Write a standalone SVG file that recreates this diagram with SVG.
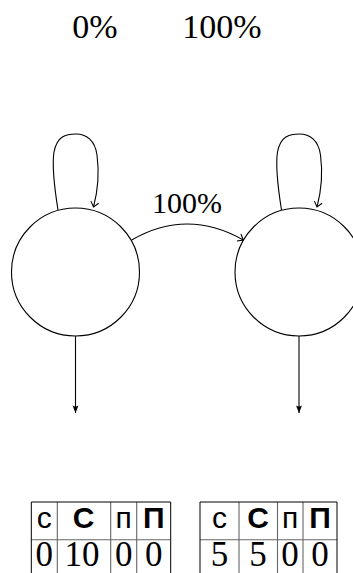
<svg xmlns="http://www.w3.org/2000/svg" width="353" height="573" viewBox="0 0 353 573">
  <style>
    .edge { fill: none; stroke: #000; stroke-width: 1.1; }
    .node { fill: #fff; stroke: #000; stroke-width: 1.1; }
    .top { font-family: "Liberation Serif", serif; font-size: 34px; fill: #000; text-anchor: middle; }
    .lbl { font-family: "Liberation Serif", serif; font-size: 30px; fill: #000; text-anchor: middle; }
    .hdr { font-family: "Liberation Sans", "DejaVu Sans", sans-serif; font-size: 30px; fill: #000; text-anchor: middle; }
    .b { font-weight: bold; }
    .val { font-family: "Liberation Serif", serif; font-size: 35px; fill: #000; text-anchor: middle; }
    .outer { stroke: #000; stroke-width: 1; fill: none; }
    .inner { stroke: #666; stroke-width: 1.1; fill: none; }
  </style>
  <defs>
    <marker id="to" viewBox="-7 -5 8 10" markerWidth="8" markerHeight="10" refX="0" refY="0" orient="auto" markerUnits="userSpaceOnUse">
      <path d="M-5,-4 Q-1.5,-1.2 0,0 Q-1.5,1.2 -5,4" fill="none" stroke="#000" stroke-width="1.1"/>
    </marker>
    <marker id="latex" viewBox="-8 -4 9 8" markerWidth="9" markerHeight="8" refX="0" refY="0" orient="auto" markerUnits="userSpaceOnUse">
      <path d="M0,0 L-7.5,-3 Q-5.5,0 -7.5,3 Z" fill="#000"/>
    </marker>
  </defs>

  <g id="header">
    <text class="top" x="95" y="38">0%</text>
    <text class="top" x="222" y="38">100%</text>
  </g>

  <g id="node-1">
    <circle class="node" cx="75.5" cy="272" r="64"/>
  </g>
  <g id="node-2">
    <circle class="node" cx="299" cy="272" r="64"/>
  </g>

  <g id="connectors">
    <path class="edge" d="M58,210 C54,185 52,165 54,152 C57,136 66,134 76,134 C86,134 95,140 97,155 C99,170 98,190 93.5,207" marker-end="url(#to)"/>
    <path class="edge" d="M281.5,210 C277.5,185 275.5,165 277.5,152 C280.5,136 289.5,134 299.5,134 C309.5,134 318.5,140 320.5,155 C322.5,170 321.5,190 317,207" marker-end="url(#to)"/>
    <path class="edge" d="M131.7,240 Q187,208 243.3,240" marker-end="url(#to)"/>
    <text class="lbl" x="187" y="213">100%</text>
    <path class="edge" d="M75.5,336 L75.5,413" marker-end="url(#latex)"/>
    <path class="edge" d="M299,336 L299,413" marker-end="url(#latex)"/>
  </g>

  <g id="table-1">
    <line class="inner" x1="57.3" y1="502" x2="57.3" y2="580"/>
    <line class="inner" x1="110.7" y1="502" x2="110.7" y2="580"/>
    <line class="inner" x1="136.7" y1="502" x2="136.7" y2="580"/>
    <line class="inner" x1="31.3" y1="539.7" x2="170.7" y2="539.7"/>
    <path class="outer" d="M31.3,580 L31.3,502 L170.7,502 L170.7,580"/>
    <text class="hdr" x="44.3" y="527.5">c</text>
    <text class="hdr b" x="83.5" y="527.5">C</text>
    <text class="hdr" x="123.7" y="527.5">п</text>
    <text class="hdr b" x="153.7" y="527.5">П</text>
    <text class="val" x="44.3" y="565.5">0</text>
    <text class="val" x="82" y="565.5">10</text>
    <text class="val" x="123.7" y="565.5">0</text>
    <text class="val" x="153.7" y="565.5">0</text>
  </g>

  <g id="table-2">
    <line class="inner" x1="239" y1="502" x2="239" y2="580"/>
    <line class="inner" x1="277.5" y1="502" x2="277.5" y2="580"/>
    <line class="inner" x1="303" y1="502" x2="303" y2="580"/>
    <line class="inner" x1="200" y1="539.7" x2="337" y2="539.7"/>
    <path class="outer" d="M200,580 L200,502 L337,502 L337,580"/>
    <text class="hdr" x="219.5" y="527.5">c</text>
    <text class="hdr b" x="258" y="527.5">C</text>
    <text class="hdr" x="290" y="527.5">п</text>
    <text class="hdr b" x="320" y="527.5">П</text>
    <text class="val" x="219.5" y="565.5">5</text>
    <text class="val" x="258" y="565.5">5</text>
    <text class="val" x="290" y="565.5">0</text>
    <text class="val" x="320" y="565.5">0</text>
  </g>
</svg>
